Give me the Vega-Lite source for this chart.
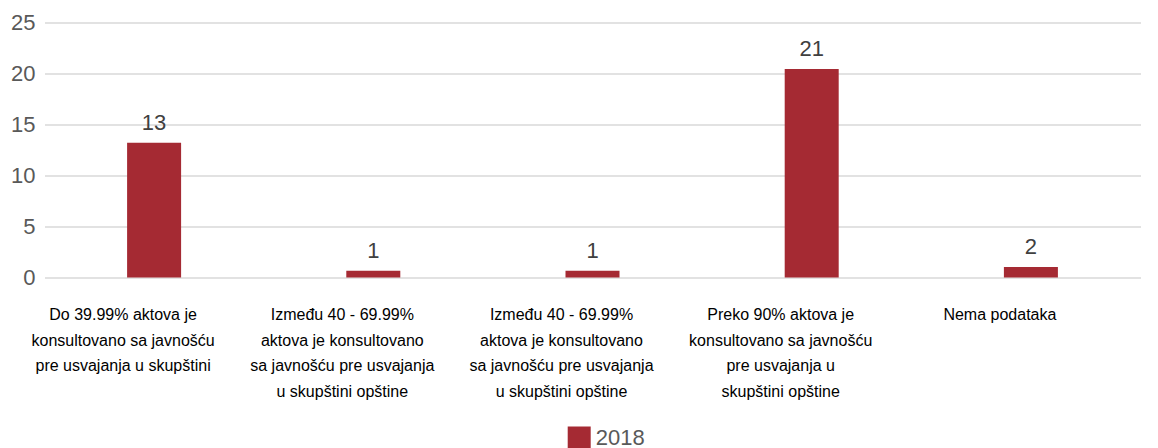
{
  "$schema": "https://vega.github.io/schema/vega-lite/v6.json",
  "autosize": {"type": "none"},
  "width": 1110,
  "height": 255,
  "padding": {"left": 48, "top": 22.5, "right": 0, "bottom": 170.5},
  "background": "white",
  "data": {
    "values": [
      {"category": "Do 39.99% aktova je\nkonsultovano sa javnošću\npre usvajanja u skupštini", "value": 13.2, "label": "13", "year": "2018"},
      {"category": "Između 40 - 69.99%\naktova je konsultovano\nsa javnošću pre usvajanja\nu skupštini opštine", "value": 0.66, "label": "1", "year": "2018"},
      {"category": "Između 40 - 69.99%\naktova je konsultovano\nsa javnošću pre usvajanja\nu skupštini opštine ", "value": 0.66, "label": "1", "year": "2018"},
      {"category": "Preko 90% aktova je\nkonsultovano sa javnošću\npre usvajanja u\nskupštini opštine", "value": 20.45, "label": "21", "year": "2018"},
      {"category": "Nema podataka", "value": 1.03, "label": "2", "year": "2018"}
    ]
  },
  "encoding": {
    "x": {
      "field": "category",
      "type": "nominal",
      "sort": null,
      "scale": {"range": [-3.5, 1092.5], "paddingInner": 0, "paddingOuter": 0},
      "axis": {
        "title": null,
        "labelAngle": 0,
        "labelExpr": "split(datum.label, '\\n')",
        "labelFont": "Liberation Sans",
        "labelFontSize": 16,
        "labelLineHeight": 25.5,
        "labelColor": "#000000",
        "labelPadding": 29,
        "labelOffset": -31,
        "labelLimit": 0,
        "domain": false,
        "ticks": false,
        "grid": false
      }
    },
    "y": {
      "field": "value",
      "type": "quantitative",
      "scale": {"domain": [0, 25], "nice": false},
      "axis": {
        "title": null,
        "values": [0, 5, 10, 15, 20, 25],
        "labelFont": "Liberation Sans",
        "labelFontSize": 22,
        "labelColor": "#595959",
        "labelPadding": 13,
        "domain": false,
        "ticks": false,
        "grid": true,
        "gridColor": "#d9d9d9",
        "gridWidth": 1.5
      }
    }
  },
  "layer": [
    {
      "mark": {"type": "bar", "size": 54},
      "encoding": {
        "color": {
          "field": "year",
          "type": "nominal",
          "scale": {"range": ["#A52A33"]},
          "legend": {
            "title": null,
            "orient": "none",
            "legendX": 519.7,
            "legendY": 404,
            "symbolType": "square",
            "symbolSize": 529,
            "symbolStrokeWidth": 0,
            "symbolOpacity": 1,
            "labelFont": "Liberation Sans",
            "labelFontSize": 22,
            "labelColor": "#595959",
            "labelOffset": 5,
            "padding": 0
          }
        }
      }
    },
    {
      "mark": {
        "type": "text",
        "baseline": "alphabetic",
        "dy": -13,
        "font": "Liberation Sans",
        "fontSize": 22,
        "color": "#404040"
      },
      "encoding": {
        "text": {"field": "label"}
      }
    }
  ],
  "config": {
    "view": {"stroke": null}
  }
}
